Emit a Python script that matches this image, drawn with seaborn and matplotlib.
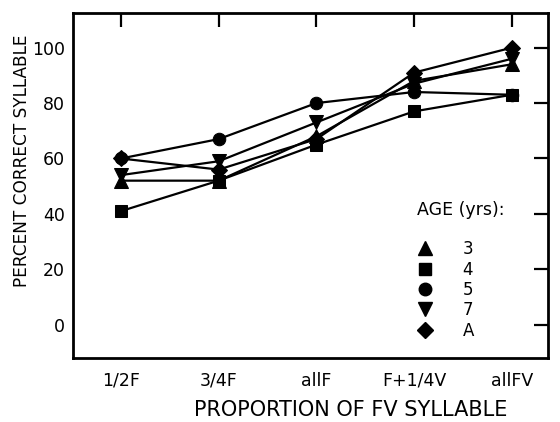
import numpy as np
import pandas as pd
import matplotlib
matplotlib.use("Agg")
import matplotlib.pyplot as plt
from matplotlib.lines import Line2D
import seaborn as sns

categories = ["1/2F", "3/4F", "allF", "F+1/4V", "allFV"]
ages = ["3", "4", "5", "7", "A"]
age3 = [52, 52, 68, 88, 94]
age4 = [41, 52, 65, 77, 83]
age5 = [60, 67, 80, 84, 83]
age7 = [54, 59, 73, 87, 96]
ageA = [60, 56, 67, 91, 100]
yticks = [0, 20, 40, 60, 80, 100]

series = {"3": age3, "4": age4, "5": age5, "7": age7, "A": ageA}
rows = []
for a, vals in series.items():
    for i, v in enumerate(vals):
        rows.append({"pos": i, "cond": categories[i], "age": a, "val": v})
df = pd.DataFrame(rows)

sns.set_style("white")
plt.rcParams["font.family"] = ["DejaVu Sans"]
for k in ["text.color", "axes.labelcolor", "xtick.color", "ytick.color"]:
    plt.rcParams[k] = "black"

markers = {"3": "^", "4": "s", "5": "o", "7": "v", "A": "D"}
msize = {"3": 10, "4": 9, "5": 9, "7": 10, "A": 8}

fig = plt.figure(figsize=(5.6, 4.22), dpi=100)
ax = fig.add_axes([73 / 560, (422 - 358) / 422, (548 - 73) / 560, (358 - 13.3) / 422])

for a in ages:
    sub = df[df["age"] == a]
    sns.lineplot(data=sub, x="pos", y="val", ax=ax, color="black", lw=1.6,
                 marker=markers[a], markersize=msize[a], markeredgecolor="black",
                 markerfacecolor="black", legend=False, zorder=3)

ax.set_xlim(-0.49, 4.37)
ax.set_ylim(-12, 112.4)
ax.set_xticks(range(len(categories)))
ax.set_xticklabels(categories)
ax.set_yticks(yticks)
ax.set_yticklabels([str(t) for t in yticks])
ax.tick_params(direction="in", length=10, width=1.6, top=True, right=True,
               labelsize=12.5, pad=6, colors="black")
ax.tick_params(axis="x", pad=10)
for s in ax.spines.values():
    s.set_linewidth(2)
    s.set_color("black")

ax.set_xlabel("PROPORTION OF FV SYLLABLE", fontsize=15)
ax.set_ylabel("PERCENT CORRECT SYLLABLE", fontsize=12.2)
ax.xaxis.set_label_coords(0.585, -0.122)
ax.yaxis.set_label_coords(-0.088, 0.572)

handles = [Line2D([], [], linestyle="none", marker=markers[a], color="black",
                  markersize=msize[a]) for a in ages]
leg = ax.legend(handles, ages, title="AGE (yrs):", frameon=False, loc="upper left",
                bbox_to_anchor=(0.692, 0.498), handlelength=1.0, handletextpad=1.75,
                labelspacing=0.14, fontsize=12, title_fontsize=12.5, alignment="left")
leg._legend_box.sep = 15

fig.savefig("out.png", dpi=100)
